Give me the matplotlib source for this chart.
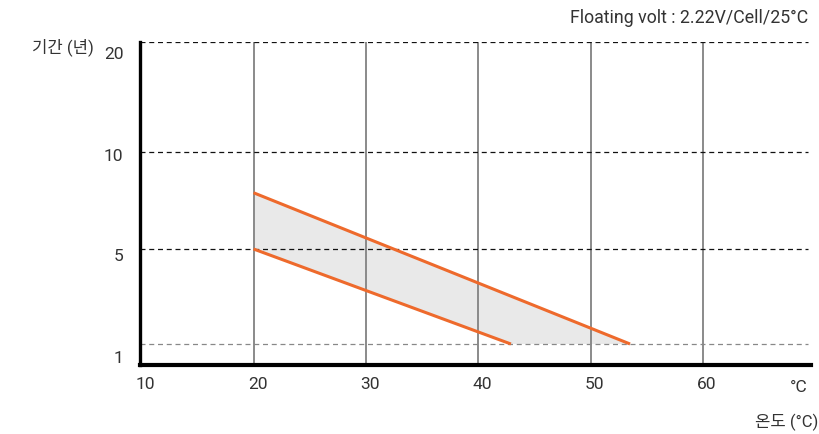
import numpy as np
import matplotlib
matplotlib.use("Agg")
import matplotlib.pyplot as plt
from matplotlib.transforms import ScaledTranslation

plt.rcParams['font.family'] = ['Roboto', 'Noto Sans CJK KR', 'DejaVu Sans']

# ---- data ----
x_ticks = [10, 20, 30, 40, 50, 60]
y_ticks = [1, 5, 10, 20]
y_tick_labels = ["1", "5", "10", "20"]
upper_x = [20, 53.5]
upper_y = [7.9, 1]
lower_x = [20, 42.9]
lower_y = [5, 1]
title_note = "Floating volt : 2.22V/Cell/25°C"
y_label = "기간 (년)"
x_label = "온도 (°C)"
x_unit = "°C"

# ---- non-uniform y scale (layout) ----
scale_vals = [0, 1, 5, 10, 20]
scale_pos = [0, 21, 116, 213, 323]

def fwd(v):
    return np.interp(v, scale_vals, scale_pos)

def inv(p):
    return np.interp(p, scale_pos, scale_vals)

W, H = 819, 435
fig = plt.figure(figsize=(W / 100, H / 100), dpi=100)
ax = fig.add_axes([140 / W, (H - 366) / H, (811 - 140) / W, (366 - 43) / H])
ax.set_yscale('function', functions=(fwd, inv))
ax.set_xlim(9.9, 69.6)
ax.set_ylim(0, 20)

text_color = "#333333"
orange = "#EE6A2C"

# vertical grid
for xv in x_ticks[1:]:
    ax.axvline(xv, color="#8a8a8a", lw=1.4, zorder=1)

# horizontal dashed lines
for yv in y_ticks:
    col = "#888888" if yv == 1 else "#111111"
    ax.axhline(yv, xmin=0, xmax=(808 - 140) / (811 - 140), color=col, lw=0.9,
               ls=(0, (4, 3)), zorder=2)

# shaded band
poly_x = upper_x + lower_x[::-1]
poly_y = upper_y + lower_y[::-1]
ax.fill(poly_x, poly_y, color="#e9e9e9", zorder=0, lw=0)
ax.plot(upper_x, upper_y, color=orange, lw=2.2, zorder=3, solid_capstyle='butt')
ax.plot(lower_x, lower_y, color=orange, lw=2.2, zorder=3, solid_capstyle='butt')

# spines
for s in ['top', 'right']:
    ax.spines[s].set_visible(False)
ax.spines['left'].set_linewidth(2.4)
ax.spines['bottom'].set_linewidth(3.0)
ax.spines['left'].set_color('black')
ax.spines['bottom'].set_color('black')

ax.set_xticks(x_ticks)
ax.set_xticklabels([str(v) for v in x_ticks])
ax.set_yticks(y_ticks)
ax.set_yticklabels(y_tick_labels)
ax.yaxis.set_minor_locator(matplotlib.ticker.NullLocator())
ax.tick_params(axis='both', length=0, labelsize=12.5, labelcolor=text_color)
ax.tick_params(axis='x', pad=8)
ax.tick_params(axis='y', pad=12)

# per-label vertical offsets (pixels)
y_offsets = {"1": -12, "5": -5, "10": -2, "20": -10}
for lab in ax.get_yticklabels():
    off = y_offsets.get(lab.get_text(), 0)
    lab.set_transform(lab.get_transform() + ScaledTranslation(0, off / 100, fig.dpi_scale_trans))
for lab in ax.get_xticklabels():
    lab.set_transform(lab.get_transform() + ScaledTranslation(4 / 100, 0, fig.dpi_scale_trans))

fig.text(808 / W, 1 - 18 / H, title_note, ha='right', va='center', fontsize=12.8, color=text_color)
fig.text(32 / W, 1 - 47 / H, y_label, ha='left', va='center', fontsize=12, color=text_color)
fig.text(818 / W, 1 - 422 / H, x_label, ha='right', va='center', fontsize=12, color=text_color)
fig.text(799 / W, 1 - 388 / H, x_unit, ha='center', va='center', fontsize=12.5, color=text_color)

fig.savefig("out.png", dpi=100)
